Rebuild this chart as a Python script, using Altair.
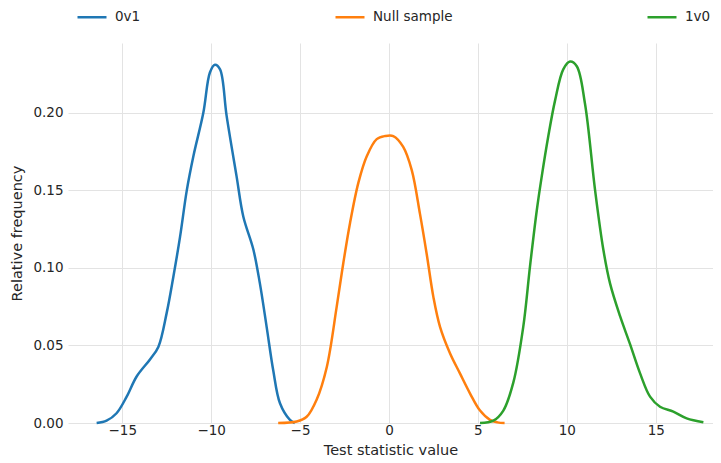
import altair as alt
import pandas as pd

# Curve samples (x: test statistic value, y: relative frequency)
blue_x = [-16.44, -15.88, -15.32, -14.75, -14.19, -13.44, -12.97, -12.50, -12.13, -11.75,
          -11.37, -11.00, -10.44, -10.07, -9.79, -9.50, -9.13, -8.57, -8.19, -7.63,
          -7.26, -6.88, -6.51, -6.13, -5.57, -5.30]
blue_y = [0.000, 0.0015, 0.0063, 0.017, 0.030, 0.041, 0.049, 0.071, 0.094, 0.120,
          0.150, 0.172, 0.200, 0.226, 0.231, 0.228, 0.198, 0.159, 0.133, 0.112,
          0.090, 0.062, 0.034, 0.0127, 0.002, 0.000]

orange_x = [-6.23, -5.19, -4.63, -4.07, -3.50, -2.94, -2.57, -2.19, -1.72, -1.25,
            -0.69, -0.22, 0.24, 0.80, 1.28, 1.74, 2.12, 2.50, 2.87, 3.43,
            3.99, 4.56, 5.12, 5.68, 6.10, 6.50]
orange_y = [0.000, 0.001, 0.004, 0.015, 0.036, 0.075, 0.103, 0.129, 0.155, 0.172,
            0.183, 0.185, 0.185, 0.178, 0.163, 0.135, 0.109, 0.081, 0.062, 0.045,
            0.032, 0.019, 0.008, 0.002, 0.0004, 0.000]

green_x = [5.12, 5.87, 6.43, 6.99, 7.55, 7.93, 8.31, 8.59, 8.96, 9.34,
           9.80, 10.18, 10.56, 11.02, 11.59, 12.05, 12.43, 12.99, 13.55, 14.12,
           14.68, 15.24, 15.99, 16.74, 17.68]
green_y = [0.000, 0.0015, 0.008, 0.026, 0.062, 0.101, 0.137, 0.159, 0.185, 0.208,
           0.228, 0.233, 0.230, 0.206, 0.150, 0.112, 0.090, 0.069, 0.051, 0.032,
           0.017, 0.0105, 0.0073, 0.003, 0.0005]

series_names = ["0v1", "Null sample", "1v0"]
series_colors = ["#1f77b4", "#ff7f0e", "#2ca02c"]
x_ticks = [-15, -10, -5, 0, 5, 10, 15]
y_ticks = [0.0, 0.05, 0.10, 0.15, 0.20]

rows = []
for name, xs, ys in zip(series_names, [blue_x, orange_x, green_x], [blue_y, orange_y, green_y]):
    for i, (a, b) in enumerate(zip(xs, ys)):
        rows.append({"series": name, "x": a, "y": b, "order": i})
df = pd.DataFrame(rows)

font = "DejaVu Sans"
text_color = "#262626"

chart = alt.Chart(df).mark_line(strokeWidth=2.5, interpolate="catmull-rom").encode(
    x=alt.X("x:Q",
            scale=alt.Scale(domain=[-18.05, 18.22], nice=False, zero=False),
            axis=alt.Axis(values=x_ticks, title="Test statistic value", format="d",
                          grid=True, ticks=False, domain=False, labelPadding=0,
                          titlePadding=7)),
    y=alt.Y("y:Q",
            scale=alt.Scale(domain=[0, 0.245], nice=False),
            axis=alt.Axis(values=y_ticks, title="Relative frequency", format=".2f",
                          grid=True, ticks=False, domain=False, labelPadding=5,
                          titlePadding=8)),
    color=alt.Color("series:N",
                    scale=alt.Scale(domain=series_names, range=series_colors),
                    sort=series_names,
                    legend=alt.Legend(title=None, orient="none", legendX=8, legendY=-42,
                                      direction="horizontal", columns=3,
                                      columnPadding=189, symbolType="stroke",
                                      symbolSize=841, symbolStrokeWidth=2.5,
                                      labelOffset=7, labelFontSize=13.5, labelFont=font,
                                      labelColor=text_color, padding=0)),
    detail="series:N",
    order="order:Q",
).properties(
    width=645,
    height=380,
    autosize=alt.AutoSizeParams(type="none"),
    padding={"left": 60, "top": 35, "right": 0, "bottom": 40},
).configure_view(
    stroke=None
).configure_axis(
    gridColor="#e3e3e3",
    gridWidth=1,
    labelFont=font,
    labelFontSize=13.5,
    labelColor=text_color,
    titleFont=font,
    titleFontSize=14.5,
    titleFontWeight="normal",
    titleColor=text_color,
)

chart.save("out.html", embed_options={"renderer": "svg", "actions": False})
